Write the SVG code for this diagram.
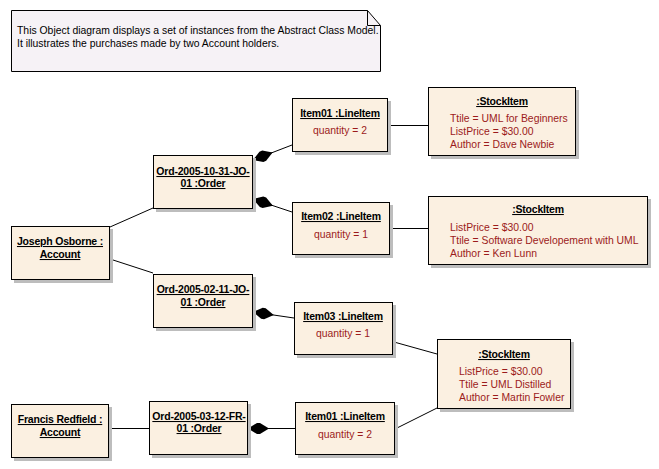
<svg xmlns="http://www.w3.org/2000/svg" xmlns:xlink="http://www.w3.org/1999/xlink" width="659" height="469" viewBox="0 0 659 469">
<style>
.box{fill:#FBF0E1;stroke:#000;stroke-width:1}
.sh{fill:#BDBDBD}
.t{font-family:"Liberation Sans",Arial,sans-serif;font-size:10.4px;fill:#000}
.b{font-weight:bold;font-size:10.5px;letter-spacing:-0.2px;text-decoration:underline;text-anchor:middle}
.a{fill:#9B1B1B}
.c{text-anchor:middle}
.ln{stroke:#000;stroke-width:1;fill:none}
</style>
<defs>
<path id="dm" d="M0,0 L9,-5.5 L12,-5.5 L21,0 L12,5.5 L9,5.5 Z" fill="#000"/>
</defs>
<rect width="659" height="469" fill="#fff"/>
<g id="note">
<path d="M11.5,10.5 H367.5 L380.5,25.5 V71.5 H11.5 Z" fill="#F6F2F6" stroke="#000"/>
<path d="M367.5,10.5 V25.5 H380.5" fill="none" stroke="#000"/>
<text class="t" x="17" y="34">This Object diagram displays a set of instances from the Abstract Class Model.</text>
<text class="t" x="17" y="47">It illustrates the purchases made by two Account holders.</text>
</g>
<g id="connectors">
<line class="ln" x1="110" y1="227" x2="153" y2="208"/>
<line class="ln" x1="110" y1="259" x2="153" y2="273"/>
<line class="ln" x1="253" y1="160" x2="292" y2="145"/>
<use xlink:href="#dm" href="#dm" transform="translate(253,160) rotate(-21)"/>
<line class="ln" x1="253" y1="199" x2="292" y2="212"/>
<use xlink:href="#dm" href="#dm" transform="translate(253,199) rotate(18.4)"/>
<line class="ln" x1="253" y1="312" x2="294" y2="318"/>
<use xlink:href="#dm" href="#dm" transform="translate(253,312) rotate(8.3)"/>
<line class="ln" x1="248" y1="428.5" x2="295" y2="428.5"/>
<use xlink:href="#dm" href="#dm" transform="translate(248,428.5)"/>
<line class="ln" x1="109" y1="428.5" x2="149" y2="428.5"/>
<line class="ln" x1="388" y1="125.5" x2="428" y2="125.5"/>
<line class="ln" x1="390" y1="228.5" x2="428" y2="228.5"/>
<line class="ln" x1="394" y1="342" x2="437" y2="354"/>
<line class="ln" x1="395" y1="429" x2="437" y2="408"/>
</g>
<g id="joseph">
<rect class="sh" x="14" y="229" width="99" height="54"/>
<rect class="box" x="11.5" y="226.5" width="98" height="53"/>
<text class="t b" x="60" y="245">Joseph Osborne :</text>
<text class="t b" x="60" y="258">Account</text>
</g>
<g id="order1">
<rect class="sh" x="156" y="158" width="100" height="54"/>
<rect class="box" x="153.5" y="155.5" width="99" height="53"/>
<text class="t b" x="203" y="175">Ord-2005-10-31-JO-</text>
<text class="t b" x="203" y="187">01 :Order</text>
</g>
<g id="order2">
<rect class="sh" x="156" y="277" width="100" height="54"/>
<rect class="box" x="153.5" y="274.5" width="99" height="53"/>
<text class="t b" x="203" y="293">Ord-2005-02-11-JO-</text>
<text class="t b" x="203" y="306">01 :Order</text>
</g>
<g id="francis">
<rect class="sh" x="14" y="407" width="98" height="54"/>
<rect class="box" x="11.5" y="404.5" width="97" height="53"/>
<text class="t b" x="60" y="423">Francis Redfield :</text>
<text class="t b" x="60" y="436">Account</text>
</g>
<g id="order3">
<rect class="sh" x="152" y="404" width="99" height="54"/>
<rect class="box" x="149.5" y="401.5" width="98" height="53"/>
<text class="t b" x="199" y="420">Ord-2005-03-12-FR-</text>
<text class="t b" x="199" y="432">01 :Order</text>
</g>
<g id="item01a">
<rect class="sh" x="295" y="101" width="96" height="54"/>
<rect class="box" x="292.5" y="98.5" width="95" height="53"/>
<text class="t b" x="340" y="117">Item01 :LineItem</text>
<text class="t a c" x="340" y="134">quantity = 2</text>
</g>
<g id="item02">
<rect class="sh" x="295" y="205" width="98" height="53"/>
<rect class="box" x="292.5" y="202.5" width="97" height="52"/>
<text class="t b" x="341" y="220">Item02 :LineItem</text>
<text class="t a c" x="341" y="238">quantity = 1</text>
</g>
<g id="item03">
<rect class="sh" x="297" y="305" width="99" height="53"/>
<rect class="box" x="294.5" y="302.5" width="98" height="52"/>
<text class="t b" x="343" y="320">Item03 :LineItem</text>
<text class="t a c" x="343" y="337">quantity = 1</text>
</g>
<g id="item01b">
<rect class="sh" x="298" y="405" width="100" height="53"/>
<rect class="box" x="295.5" y="402.5" width="99" height="52"/>
<text class="t b" x="345" y="420">Item01 :LineItem</text>
<text class="t a c" x="345" y="438">quantity = 2</text>
</g>
<g id="stock1">
<rect class="sh" x="431" y="90" width="148" height="69"/>
<rect class="box" x="428.5" y="87.5" width="147" height="68"/>
<text class="t b" x="502" y="105">:StockItem</text>
<text class="t a" x="450" y="122">Ttile = UML for Beginners</text>
<text class="t a" x="450" y="135">ListPrice = $30.00</text>
<text class="t a" x="450" y="148">Author = Dave Newbie</text>
</g>
<g id="stock2">
<rect class="sh" x="431" y="199" width="220" height="69"/>
<rect class="box" x="428.5" y="196.5" width="219" height="68"/>
<text class="t b" x="538" y="213">:StockItem</text>
<text class="t a" x="450" y="231">ListPrice = $30.00</text>
<text class="t a" x="450" y="244">Ttile = Software Developement with UML</text>
<text class="t a" x="450" y="257">Author = Ken Lunn</text>
</g>
<g id="stock3">
<rect class="sh" x="440" y="342" width="134" height="70"/>
<rect class="box" x="437.5" y="339.5" width="133" height="69"/>
<text class="t b" x="504" y="358">:StockItem</text>
<text class="t a" x="459" y="375">ListPrice = $30.00</text>
<text class="t a" x="459" y="388">Ttile = UML Distilled</text>
<text class="t a" x="459" y="401">Author = Martin Fowler</text>
</g>
</svg>
